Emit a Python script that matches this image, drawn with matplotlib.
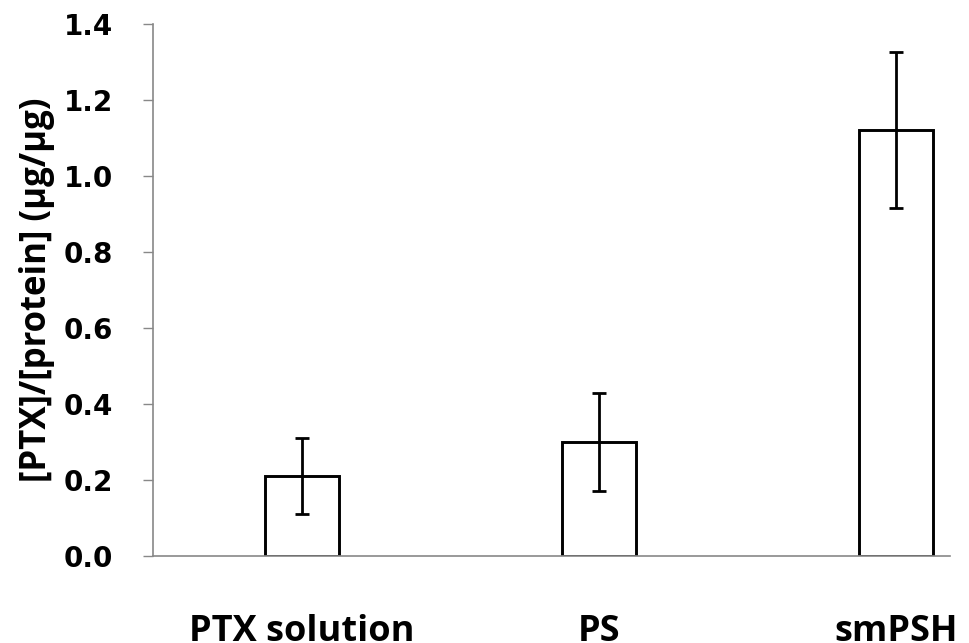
import numpy as np
import matplotlib
matplotlib.use("Agg")
import matplotlib.pyplot as plt

# values
groups = ["PTX solution", "PS", "smPSH"]
ratio = [0.21, 0.30, 1.12]
ratio_err = [0.10, 0.128, 0.205]
yticks = [0.0, 0.2, 0.4, 0.6, 0.8, 1.0, 1.2, 1.4]

fig = plt.figure(figsize=(9.69, 6.43), dpi=100)
ax = fig.add_axes([0.158, 0.1353, 0.822, 0.8274])

x = np.arange(len(groups))
ax.bar(x, ratio, width=0.25, color="white", edgecolor="black", linewidth=2.1, zorder=2)
ax.errorbar(x, ratio, yerr=ratio_err, fmt="none", ecolor="black",
            elinewidth=2.0, capsize=5, capthick=2.0, zorder=3)

ax.set_xlim(-0.5, 2.18)
ax.set_ylim(0, 1.4)
ax.set_yticks(yticks)
ax.set_yticklabels([f"{v:.1f}" for v in yticks], fontsize=20, fontweight="bold")
ax.set_xticks(x)
ax.set_xticklabels(groups, fontsize=26, fontweight="bold", family="Open Sans")
ax.tick_params(axis="x", length=0, pad=42)
ax.tick_params(axis="y", length=7, width=1, color="#888888", direction="out", pad=22)

for side in ["top", "right"]:
    ax.spines[side].set_visible(False)
for side in ["left", "bottom"]:
    ax.spines[side].set_color("#888888")
    ax.spines[side].set_linewidth(1.2)

ax.set_ylabel("[PTX]/[protein] (μg/μg)", fontsize=25, fontweight="bold",
              family="Open Sans", labelpad=6)

fig.savefig("out.png", dpi=100)
